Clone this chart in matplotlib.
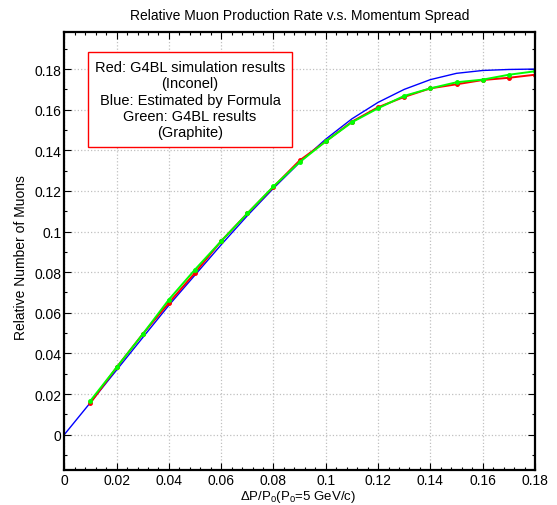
import matplotlib
matplotlib.use("Agg")
import matplotlib.pyplot as plt
from matplotlib.ticker import MultipleLocator, FuncFormatter

plt.rcParams['font.family'] = ['Liberation Sans', 'DejaVu Sans']
plt.rcParams['mathtext.fontset'] = 'custom'
plt.rcParams['mathtext.rm'] = 'Liberation Sans'
plt.rcParams['mathtext.default'] = 'regular'

# momentum spread dP/P0
spread = [0.01, 0.02, 0.03, 0.04, 0.05, 0.06, 0.07, 0.08, 0.09,
          0.10, 0.11, 0.12, 0.13, 0.14, 0.15, 0.16, 0.17, 0.18]
# G4BL simulation, Inconel target (red)
inconel = [0.0156, 0.0331, 0.0495, 0.0649, 0.0797, 0.0953, 0.1089, 0.1220, 0.1350,
           0.1444, 0.1541, 0.1612, 0.1663, 0.1705, 0.1725, 0.1746, 0.1757, 0.1772]
# G4BL simulation, Graphite target (green)
graphite = [0.0167, 0.0331, 0.0495, 0.0665, 0.0813, 0.0953, 0.1089, 0.1222, 0.1342,
            0.1444, 0.1538, 0.1607, 0.1668, 0.1705, 0.1735, 0.1748, 0.1772, 0.1789]
# formula estimate (blue)
spread_f = [0.0, 0.01, 0.02, 0.03, 0.04, 0.05, 0.06, 0.07, 0.08, 0.09,
            0.10, 0.11, 0.12, 0.13, 0.14, 0.15, 0.16, 0.17, 0.18]
formula = [0.0, 0.0158, 0.0318, 0.0478, 0.0637, 0.0786, 0.0935, 0.1078, 0.1213, 0.1340,
           0.1455, 0.1555, 0.1636, 0.1700, 0.1748, 0.1779, 0.1793, 0.1798, 0.1800]

legend_lines = ["Red: G4BL simulation results", "(Inconel)",
                "Blue: Estimated by Formula", "Green: G4BL results", "(Graphite)"]

fig = plt.figure(figsize=(5.57, 5.06), dpi=100)
ax = fig.add_axes([0.1154, 0.0692, 0.8451, 0.8662])

ax.plot(spread_f, formula, color=(0, 0, 1), linewidth=1.0)
ax.plot(spread, inconel, color=(1, 0, 0), linewidth=1.4, marker='o', markersize=2.5)
ax.plot(spread, graphite, color=(0, 1, 0), linewidth=1.4, marker='o', markersize=2.5)

ax.set_xlim(0, 0.18)
ax.set_ylim(-0.0174, 0.1984)
ax.xaxis.set_major_locator(MultipleLocator(0.02))
ax.xaxis.set_minor_locator(MultipleLocator(0.004))
ax.yaxis.set_major_locator(MultipleLocator(0.02))
ax.yaxis.set_minor_locator(MultipleLocator(0.01))
fmt = FuncFormatter(lambda v, p: '%g' % round(v, 4))
ax.xaxis.set_major_formatter(fmt)
ax.yaxis.set_major_formatter(fmt)
ax.set_yticks([v / 100 for v in range(0, 19, 2)])

ax.tick_params(which='both', direction='in', top=True, right=True, width=0.8)
ax.tick_params(which='major', length=5, labelsize=10)
ax.tick_params(axis='x', which='major', pad=2.5)
ax.tick_params(axis='y', which='major', pad=2)
ax.tick_params(which='minor', length=2.5)
for s in ax.spines.values():
    s.set_linewidth(1.6)
ax.grid(True, which='major', color='#c0c0c0', linestyle=':', linewidth=0.9)

ax.set_title("Relative Muon Production Rate v.s. Momentum Spread", fontsize=10, pad=9)
fig.text(298 / 557, 1 - 505 / 506, r'$\Delta$P/P$_0$(P$_0$=5 GeV/c)',
         fontsize=9.5, ha='center', va='bottom')
fig.text(21 / 557, 1 - 258 / 506, "Relative Number of Muons",
         fontsize=10, ha='center', va='center', rotation=90)

ax.text(0.267, 0.845, "\n".join(legend_lines), transform=ax.transAxes,
        fontsize=10.5, ha='center', va='center', linespacing=1.22,
        bbox=dict(boxstyle='square,pad=0.5', facecolor='white', edgecolor='red', linewidth=1.0))

fig.savefig("out.png", dpi=100)
